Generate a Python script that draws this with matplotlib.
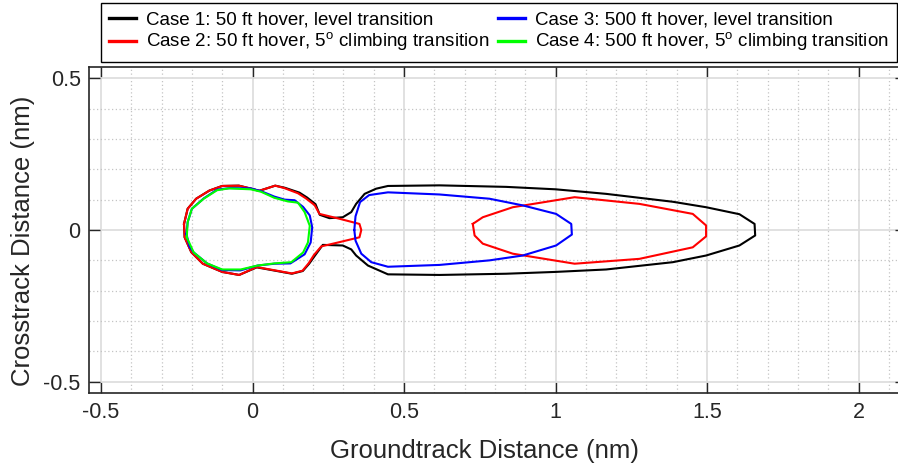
import numpy as np
import matplotlib
matplotlib.use("Agg")
import matplotlib.pyplot as plt
from matplotlib.ticker import MultipleLocator

plt.rcParams['font.family'] = ['Liberation Sans', 'DejaVu Sans']
plt.rcParams['axes.unicode_minus'] = False
plt.rcParams['mathtext.fontset'] = 'custom'
plt.rcParams['mathtext.rm'] = 'Liberation Sans'

# ---------------- data (nm) ----------------
labels = ["Case 1: 50 ft hover, level transition",
          "Case 2: 50 ft hover, 5$^{\\mathrm{o}}$ climbing transition",
          "Case 3: 500 ft hover, level transition",
          "Case 4: 500 ft hover, 5$^{\\mathrm{o}}$ climbing transition"]
colors = ["#000000", "#ff0000", "#0000ff", "#00ff00"]

# Case 1: single contour (hover lobe + neck + long transition lobe)
case1_x = [-0.226, -0.214, -0.186, -0.142, -0.100, -0.045, -0.008, 0.022, 0.075, 0.107,
           0.155, 0.180, 0.208, 0.222, 0.254, 0.298, 0.326, 0.342, 0.370, 0.408,
           0.447, 0.617, 0.837, 1.000, 1.167, 1.387, 1.497, 1.607, 1.657, 1.659,
           1.607, 1.497, 1.387, 1.167, 1.000, 0.837, 0.617, 0.447, 0.381, 0.342,
           0.326, 0.298, 0.232, 0.207, 0.187, 0.166, 0.130, 0.014, -0.044, -0.100,
           -0.164, -0.202, -0.224]
case1_y = [0.020, 0.070, 0.103, 0.130, 0.145, 0.146, 0.137, 0.129, 0.146, 0.139,
           0.123, 0.107, 0.085, 0.050, 0.039, 0.042, 0.059, 0.086, 0.119, 0.136,
           0.145, 0.147, 0.142, 0.134, 0.119, 0.093, 0.075, 0.052, 0.020, -0.018,
           -0.051, -0.084, -0.106, -0.130, -0.138, -0.144, -0.148, -0.146, -0.117, -0.084,
           -0.064, -0.051, -0.049, -0.083, -0.111, -0.135, -0.144, -0.123, -0.148, -0.138,
           -0.111, -0.073, -0.024]

# Case 2: hover lobe with neck, plus separate transition lobe
case2_lobe_x = [-0.226, -0.214, -0.186, -0.142, -0.100, -0.045, -0.008, 0.022, 0.075, 0.105,
                0.150, 0.175, 0.205, 0.221, 0.287, 0.353, 0.359, 0.353, 0.287, 0.227,
                0.203, 0.185, 0.165, 0.130, 0.014, -0.044, -0.100, -0.164, -0.202, -0.224]
case2_lobe_y = [0.020, 0.070, 0.103, 0.130, 0.145, 0.146, 0.137, 0.129, 0.146, 0.138,
                0.121, 0.105, 0.082, 0.053, 0.037, 0.020, 0.000, -0.024, -0.040, -0.054,
                -0.082, -0.110, -0.134, -0.143, -0.122, -0.148, -0.138, -0.111, -0.073, -0.024]
case2_far_x = [0.727, 0.760, 0.859, 1.063, 1.277, 1.453, 1.497, 1.497, 1.453, 1.277,
               1.063, 0.859, 0.760, 0.733]
case2_far_y = [0.020, 0.042, 0.075, 0.108, 0.086, 0.053, 0.015, -0.021, -0.057, -0.095,
               -0.111, -0.078, -0.045, -0.018]

# Case 3: hover lobe plus separate transition lobe
case3_lobe_x = [-0.218, -0.214, -0.200, -0.161, -0.117, -0.075, -0.006, 0.028, 0.072, 0.106,
                0.139, 0.167, 0.189, 0.197, 0.192, 0.172, 0.125, 0.072, 0.017, -0.040,
                -0.100, -0.150, -0.194, -0.208]
case3_lobe_y = [-0.013, 0.026, 0.070, 0.104, 0.133, 0.138, 0.137, 0.128, 0.110, 0.100,
                0.098, 0.076, 0.048, 0.009, -0.041, -0.080, -0.110, -0.111, -0.117, -0.133,
                -0.132, -0.110, -0.074, -0.055]
case3_far_x = [0.336, 0.340, 0.355, 0.385, 0.447, 0.617, 0.782, 0.892, 1.002, 1.052,
               1.054, 1.002, 0.892, 0.782, 0.617, 0.447, 0.392, 0.359, 0.340]
case3_far_y = [0.000, 0.045, 0.092, 0.115, 0.124, 0.117, 0.103, 0.081, 0.053, 0.020,
               -0.015, -0.051, -0.084, -0.100, -0.115, -0.121, -0.106, -0.078, -0.035]

# Case 4: hover lobe only
case4_x = [-0.217, -0.214, -0.200, -0.161, -0.117, -0.078, -0.006, 0.028, 0.072, 0.117,
           0.150, 0.172, 0.189, 0.183, 0.167, 0.128, 0.072, 0.017, -0.039, -0.100,
           -0.150, -0.194]
case4_y = [-0.024, 0.026, 0.070, 0.103, 0.131, 0.137, 0.134, 0.126, 0.106, 0.094,
           0.090, 0.059, 0.014, -0.041, -0.074, -0.106, -0.110, -0.117, -0.130, -0.130,
           -0.110, -0.074]

xticks = [-0.5, 0, 0.5, 1, 1.5, 2]
xticklabels = ["-0.5", "0", "0.5", "1", "1.5", "2"]
yticks = [-0.5, 0, 0.5]
yticklabels = ["-0.5", "0", "0.5"]

# ---------------- figure ----------------
W, H = 898, 465
fig = plt.figure(figsize=(W / 100, H / 100), dpi=100)
left, right, top, bottom = 89, 906, 66.7, 393.3
ax = fig.add_axes([left / W, 1 - bottom / H, (right - left) / W, (bottom - top) / H])

def closed(xs, ys):
    return list(xs) + [xs[0]], list(ys) + [ys[0]]

lw = 1.5
x, y = closed(case1_x, case1_y)
l1, = ax.plot(x, y, color=colors[0], lw=lw, label=labels[0])
x, y = closed(case2_lobe_x, case2_lobe_y)
l2, = ax.plot(x, y, color=colors[1], lw=lw, label=labels[1])
x, y = closed(case2_far_x, case2_far_y)
ax.plot(x, y, color=colors[1], lw=lw)
x, y = closed(case3_lobe_x, case3_lobe_y)
l3, = ax.plot(x, y, color=colors[2], lw=lw, label=labels[2])
x, y = closed(case3_far_x, case3_far_y)
ax.plot(x, y, color=colors[2], lw=lw)
x, y = closed(case4_x, case4_y)
l4, = ax.plot(x, y, color=colors[3], lw=lw, label=labels[3])

xmin = -0.5 - 12 / 303.0
xmax = xmin + (right - left) / 303.0
ax.set_xlim(xmin, xmax)
ax.set_ylim(-0.5377, 0.5377)

txt = "#262626"
ax.set_xticks(xticks)
ax.set_xticklabels(xticklabels)
ax.set_yticks(yticks)
ax.set_yticklabels(yticklabels)
ax.xaxis.set_minor_locator(MultipleLocator(0.1))
ax.yaxis.set_minor_locator(MultipleLocator(0.1))
ax.tick_params(which='major', direction='in', length=8, width=1.0, color=txt,
               labelsize=15.5, labelcolor=txt, pad=6,
               top=True, right=True)
ax.tick_params(which='minor', length=0, top=True, right=True)

ax.grid(which='major', color='#dedede', lw=1.3, ls='-')
ax.grid(which='minor', color='#c4c4c4', lw=0.9, ls=(0, (1, 2)))
ax.set_axisbelow(True)
for s in ax.spines.values():
    s.set_color(txt)
    s.set_linewidth(1.2)

ax.set_xlabel("Groundtrack Distance (nm)", fontsize=18.5, color=txt)
ax.xaxis.label.set_va('baseline')
ax.xaxis.set_label_coords((484 - left) / (right - left), (bottom - 458) / (bottom - top))
ax.set_ylabel("Crosstrack Distance (nm)", fontsize=18.5, color=txt)
ax.yaxis.label.set_va('top')
ax.yaxis.set_label_coords(-(left - 11) / (right - left), (bottom - 240.5) / (bottom - top))

leg = fig.legend(handles=[l1, l2, l3, l4], ncol=2, loc='upper left',
                 bbox_to_anchor=(100.7 / W, 1 - 2.7 / H, (897 - 100.7) / W, 0.0),
                 mode='expand', borderaxespad=0, fontsize=13.5, frameon=True,
                 fancybox=False, edgecolor='#000000', framealpha=1,
                 handlelength=1.45, handletextpad=0.5, columnspacing=1.2,
                 labelspacing=0.12, borderpad=0.45)
leg.get_frame().set_linewidth(1.0)
for t in leg.get_texts():
    t.set_color('#000000')
for h in leg.legend_handles:
    h.set_linewidth(2.4)

fig.savefig("out.png", dpi=100)
